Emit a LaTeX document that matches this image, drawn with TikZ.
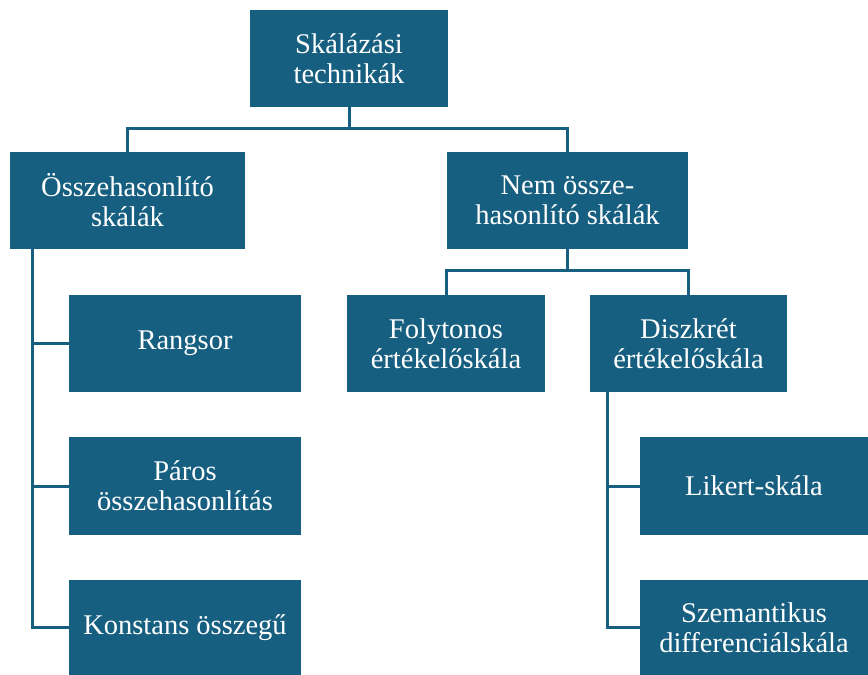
\documentclass[tikz,border=0pt]{standalone}
\usepackage{fontspec}
\setmainfont{Liberation Serif}
\usetikzlibrary{calc}
\definecolor{boxblue}{RGB}{23,95,128}
\tikzset{
  box/.style={fill=boxblue, text=white, align=center, inner sep=0pt,
    font=\rmfamily\fontsize{28.5}{30}\selectfont},
  link/.style={draw=boxblue, line width=3pt}
}

\begin{document}
\begin{tikzpicture}[x=1pt, y=-1pt]
            \useasboundingbox (0,0) rectangle (868,675);
            % boxes
            \node[box, minimum width=198pt, minimum height=97pt] (root) at (349,58.5) {Skálázási\\technikák};
            \node[box, minimum width=235pt, minimum height=97pt] (osz) at (127.5,200.5) {Összehasonlító\\skálák};
            \node[box, minimum width=241pt, minimum height=97pt] (nem) at (567.5,200.5) {Nem össze-\\hasonlító skálák};
            \node[box, minimum width=232pt, minimum height=97pt] (rang) at (185,343.5) {Rangsor};
            \node[box, minimum width=232pt, minimum height=98pt] (paros) at (185,486) {Páros\\összehasonlítás};
            \node[box, minimum width=232pt, minimum height=95pt] (konst) at (185,627.5) {Konstans összegű};
            \node[box, minimum width=198pt, minimum height=97pt] (foly) at (446,343.5) {Folytonos\\értékelőskála};
            \node[box, minimum width=197pt, minimum height=97pt] (disz) at (688.5,343.5) {Diszkrét\\értékelőskála};
            \node[box, minimum width=228pt, minimum height=98pt] (likert) at (754,486) {Likert-skála};
            \node[box, minimum width=228pt, minimum height=95pt] (szem) at (754,627.5) {Szemantikus\\differenciálskála};

            % connectors
            \draw[link] (root.south) -- ++(0,21) coordinate (j1);
            \draw[link] (osz.north) |- (j1) -| (nem.north);
            \draw[link] (nem.south) -- ++(0,21) coordinate (j2);
            \draw[link] (foly.north) |- (j2) -| (disz.north);
            \coordinate (t1) at ($(osz.south west)+(23,0)$);
            \draw[link] (t1) |- (rang.west);
            \draw[link] (t1) |- (paros.west);
            \draw[link] (t1) |- (konst.west);
            \coordinate (t2) at ($(disz.south west)+(18,0)$);
            \draw[link] (t2) |- (likert.west);
            \draw[link] (t2) |- (szem.west);
\end{tikzpicture}
\end{document}
